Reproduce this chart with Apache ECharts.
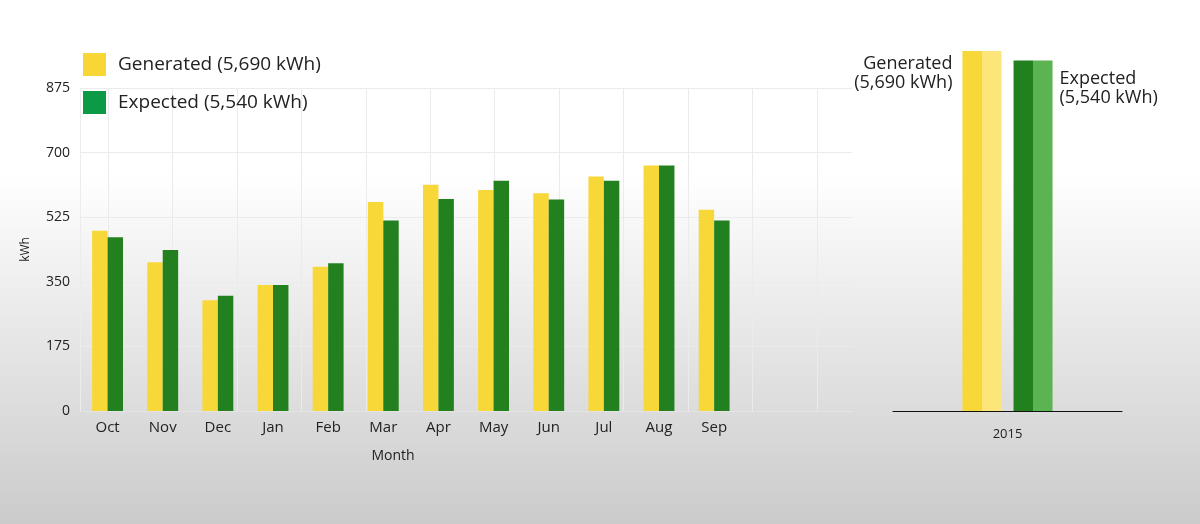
<!DOCTYPE html>
<html>
<head>
<meta charset="utf-8">
<script src="https://cdn.jsdelivr.net/npm/echarts@6/dist/echarts.min.js"></script>
<style>html,body{margin:0;padding:0;}#c{width:1200px;height:524px;}</style>
</head>
<body>
<div id="c"></div>
<script>
const months = ['Oct','Nov','Dec','Jan','Feb','Mar','Apr','May','Jun','Jul','Aug','Sep','',''];
const generated = [488,403,300,341,391,566,613,599,590,635,665,545];
const expected = [471,436,312,341,400,516,574,624,573,624,665,516];
const yTicks = [0,175,350,525,700,875];
const years = ['2015'];
const generatedTotal = [5690];
const expectedTotal = [5540];
const genName = 'Generated (5,690 kWh)';
const expName = 'Expected (5,540 kWh)';

const FONT = 'Open Sans';
const chart = echarts.init(document.getElementById('c'));
function split(a,b){return {type:'linear',x:0,y:0,x2:1,y2:0,colorStops:[{offset:0,color:a},{offset:0.5,color:a},{offset:0.5,color:b},{offset:1,color:b}]};}
chart.setOption({
  backgroundColor:{type:'linear',x:0,y:0,x2:0,y2:1,colorStops:[{offset:0,color:'#ffffff'},{offset:0.33,color:'#ffffff'},{offset:1,color:'#cbcbcb'}]},
  textStyle:{fontFamily:FONT},
  animation:false,
  legend:{
    orient:'vertical', left:83, top:53, padding:0, itemWidth:23, itemHeight:23, itemGap:15, icon:'rect',
    textStyle:{fontSize:19,color:'#222',fontFamily:FONT, padding:[0,0,0,7]},
    data:[{name:genName,itemStyle:{color:'#F8D635'}},{name:expName,itemStyle:{color:'#0D9A47'}}]
  },
  grid:[
    {left:80,right:348,top:88,bottom:113},
    {left:108,width:709,top:88,bottom:113},
    {left:893,width:229,top:51,bottom:113}
  ],
  xAxis:[
    {gridIndex:0,type:'category',data:months,
     axisLine:{lineStyle:{color:'#e4e4e4'}},axisTick:{show:false},
     axisLabel:{fontSize:15,color:'#222',margin:9,fontFamily:FONT},
     splitLine:{show:false},
     name:'Month',nameLocation:'middle',nameGap:38,
     nameTextStyle:{fontSize:14,color:'#222',padding:[0,146,0,0],fontFamily:FONT}},
    {gridIndex:1,type:'value',min:0,max:11,interval:1,
     axisLine:{show:false},axisTick:{show:false},axisLabel:{show:false},
     splitLine:{show:true,lineStyle:{color:'#ebebeb'}}},
    {gridIndex:2,type:'category',data:years,
     axisLine:{lineStyle:{color:'#111',width:1}},axisTick:{show:false},
     axisLabel:{fontSize:13,color:'#222',margin:17,fontFamily:FONT}}
  ],
  yAxis:[
    {gridIndex:0,type:'value',min:yTicks[0],max:yTicks[yTicks.length-1],interval:175,
     axisLine:{show:true,lineStyle:{color:'#ececec'}},axisTick:{show:false},
     axisLabel:{fontSize:14,color:'#222',margin:10,fontFamily:FONT},
     splitLine:{lineStyle:{color:'#ebebeb'}},
     name:'kWh',nameLocation:'middle',nameGap:48,nameRotate:90,
     nameTextStyle:{fontSize:12,color:'#222',fontFamily:FONT}},
    {gridIndex:1,type:'value',show:false,min:0,max:1},
    {gridIndex:2,type:'value',show:false,min:0,max:'dataMax'}
  ],
  series:[
    {name:genName,type:'bar',xAxisIndex:0,yAxisIndex:0,data:generated,barWidth:'28%',barGap:'0%',
     itemStyle:{color:'#F8D838'}},
    {name:expName,type:'bar',xAxisIndex:0,yAxisIndex:0,data:expected,barWidth:'28%',barGap:'0%',
     itemStyle:{color:'#23801F'}},
    {name:'gtot',type:'bar',xAxisIndex:2,yAxisIndex:2,data:generatedTotal,barWidth:39,barGap:'31%',
     itemStyle:{color:split('#F8D838','#FCE67A')},
     label:{show:true,position:[-10,3],align:'right',verticalAlign:'top',lineHeight:19,
       fontSize:18,color:'#222',fontFamily:FONT,formatter:'Generated\n(5,690 kWh)'}},
    {name:'etot',type:'bar',xAxisIndex:2,yAxisIndex:2,data:expectedTotal,barWidth:39,barGap:'31%',
     itemStyle:{color:split('#23801F','#5CB352')},
     label:{show:true,position:[46,9],align:'left',verticalAlign:'top',lineHeight:19,
       fontSize:18,color:'#222',fontFamily:FONT,formatter:'Expected\n(5,540 kWh)'}}
  ]
});
</script>
</body>
</html>
